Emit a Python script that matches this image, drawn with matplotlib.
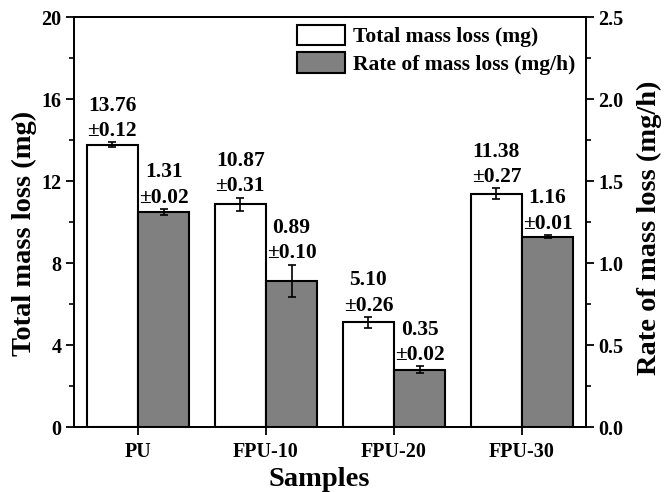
import matplotlib
matplotlib.use("Agg")
import matplotlib.pyplot as plt
import numpy as np
from matplotlib.ticker import MultipleLocator
from matplotlib.patches import Patch

plt.rcParams['font.family'] = ['Liberation Serif', 'DejaVu Serif']
plt.rcParams['font.weight'] = 'bold'

samples = ["PU", "FPU-10", "FPU-20", "FPU-30"]
total_loss = [13.76, 10.87, 5.10, 11.38]
total_err = [0.12, 0.31, 0.26, 0.27]
rate_loss = [1.31, 0.89, 0.35, 1.16]
rate_err = [0.02, 0.10, 0.02, 0.01]

fig = plt.figure(figsize=(6.64, 4.92), dpi=100)
ax = fig.add_axes([0.1114, 0.1321, 0.7711, 0.8333])
ax2 = ax.twinx()

x = np.arange(len(samples))
w = 0.4
ekw = dict(elinewidth=1.2, capthick=1.2, ecolor='black')

ax.bar(x - w / 2, total_loss, w, yerr=total_err, capsize=3,
       color='white', edgecolor='black', linewidth=1.5, error_kw=ekw, zorder=2)
ax2.bar(x + w / 2, rate_loss, w, yerr=rate_err, capsize=3,
        color='#808080', edgecolor='black', linewidth=1.5, error_kw=ekw, zorder=2)

lab_fs = 15.5
for xi, v, e in zip(x, total_loss, total_err):
    ax.annotate(f"{v:.2f}\n±{e:.2f}", (xi - w / 2, v + e), xytext=(0, 1),
                textcoords='offset points', ha='center', va='bottom',
                fontsize=lab_fs, fontweight='bold', linespacing=1.35)
for xi, v, e in zip(x, rate_loss, rate_err):
    ax2.annotate(f"{v:.2f}\n±{e:.2f}", (xi + w / 2, v + e), xytext=(0, 1),
                 textcoords='offset points', ha='center', va='bottom',
                 fontsize=lab_fs, fontweight='bold', linespacing=1.35)

ax.set_xlim(-0.5, 3.5)
ax.set_ylim(0, 20)
ax2.set_ylim(0, 2.5)
ax.set_xticks(x)
ax.set_xticklabels(samples)
ax.yaxis.set_major_locator(MultipleLocator(4))
ax.yaxis.set_minor_locator(MultipleLocator(2))
ax2.set_yticks(np.arange(0, 2.51, 0.5))
ax2.set_yticklabels([f"{t:.1f}" for t in np.arange(0, 2.51, 0.5)])
ax2.yaxis.set_minor_locator(MultipleLocator(0.25))

for a in (ax, ax2):
    a.tick_params(axis='both', which='major', direction='out', length=6, width=1.3,
                  labelsize=14.5, pad=3)
    a.tick_params(axis='both', which='minor', direction='out', length=3.5, width=1.2)
    for s in a.spines.values():
        s.set_linewidth(1.3)
ax.tick_params(axis='x', which='major', labelsize=14.5, pad=5)

ax.set_xlabel("Samples", fontsize=20.5, fontweight='bold')
ax.set_ylabel("Total mass loss (mg)", fontsize=20.5, fontweight='bold')
ax2.set_ylabel("Rate of mass loss (mg/h)", fontsize=20.5, fontweight='bold')
ax.xaxis.set_label_coords(0.479, -0.098)
ax.yaxis.set_label_coords(-0.072, 0.471)
ax2.yaxis.set_label_coords(1.100, 0.487)

handles = [Patch(facecolor='white', edgecolor='black', linewidth=1.5, label='Total mass loss (mg)'),
           Patch(facecolor='#808080', edgecolor='black', linewidth=1.5, label='Rate of mass loss (mg/h)')]
ax2.legend(handles=handles, loc='upper right', bbox_to_anchor=(1 - 3 / 512, 1),
           frameon=False, handlelength=2.23, handleheight=1.07, handletextpad=0.37,
           labelspacing=0.25, borderaxespad=0, borderpad=0.35,
           prop={'weight': 'bold', 'size': 15.5})

fig.savefig("out.png", dpi=100)
